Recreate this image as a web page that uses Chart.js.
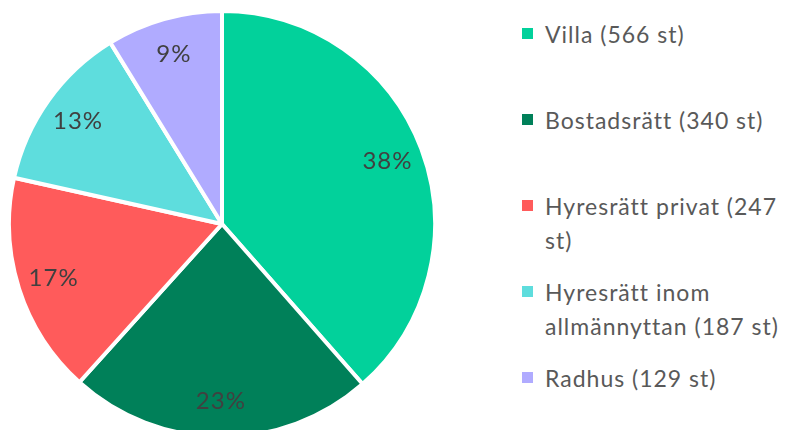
<!DOCTYPE html>
<html>
<head>
<meta charset="utf-8">
<script src="https://cdn.jsdelivr.net/npm/chart.js@4.4.0/dist/chart.umd.min.js"></script>
<style>
  html, body { margin: 0; padding: 0; background: #fff; overflow: hidden; }
  #wrap { position: relative; width: 798px; height: 430px; overflow: hidden; }
  #chartBox { position: absolute; left: 0; top: 0; width: 444px; height: 448px; }
  #legend { position: absolute; left: 522px; top: 17px; width: 276px;
            font-family: Lato, sans-serif; font-size: 23px; letter-spacing: 1px; color: #595959; }
  .item { display: flex; align-items: flex-start; height: 86px; }
  .box { width: 11px; height: 11px; margin-top: 11px; margin-right: 12px; flex: none; }
  .txt { line-height: 34px; width: 253px; }
</style>
</head>
<body>
<div id="wrap">
  <div id="chartBox"><canvas id="pieCanvas"></canvas></div>
  <div id="legend"></div>
</div>
<script>
// data
var categories = ['Villa', 'Bostadsrätt', 'Hyresrätt privat', 'Hyresrätt inom allmännyttan', 'Radhus'];
var counts = [566, 340, 247, 187, 129];
var pctLabels = [38, 23, 17, 13, 9];
var sliceColors = ['#02D19B', '#008059', '#FF5B5B', '#5EDDDD', '#B0ABFF'];

// percent text inside each slice
var pctLabelPlugin = {
  id: 'pctLabels',
  afterDatasetsDraw(chart) {
    var ctx = chart.ctx;
    var meta = chart.getDatasetMeta(0);
    ctx.save();
    ctx.font = '24px Lato';
    ctx.letterSpacing = '1px';
    ctx.fillStyle = '#404040';
    ctx.textAlign = 'center';
    ctx.textBaseline = 'middle';
    meta.data.forEach(function (arc, i) {
      var p = arc.getProps(['x', 'y', 'startAngle', 'endAngle', 'outerRadius']);
      var mid = (p.startAngle + p.endAngle) / 2;
      var r = p.outerRadius * 0.83;
      ctx.fillText(pctLabels[i] + '%', p.x + Math.cos(mid) * r, p.y + Math.sin(mid) * r);
    });
    ctx.restore();
  }
};

var chart = new Chart(document.getElementById('pieCanvas'), {
  type: 'pie',
  data: {
    labels: categories.map(function (c, i) { return c + ' (' + counts[i] + ' st)'; }),
    datasets: [{
      data: counts,
      backgroundColor: sliceColors,
      borderColor: '#ffffff',
      borderWidth: 4
    }]
  },
  options: {
    responsive: true,
    maintainAspectRatio: false,
    animation: false,
    radius: 213,
    layout: { padding: 0 },
    plugins: {
      legend: { display: false },
      tooltip: { enabled: false }
    }
  },
  plugins: [pctLabelPlugin]
});

// html legend built from the chart's own labels/colours
var legendEl = document.getElementById('legend');
chart.data.labels.forEach(function (lbl, i) {
  var item = document.createElement('div');
  item.className = 'item';
  var box = document.createElement('div');
  box.className = 'box';
  box.style.background = chart.data.datasets[0].backgroundColor[i];
  var txt = document.createElement('div');
  txt.className = 'txt';
  txt.textContent = lbl;
  item.appendChild(box);
  item.appendChild(txt);
  legendEl.appendChild(item);
});
</script>
</body>
</html>
